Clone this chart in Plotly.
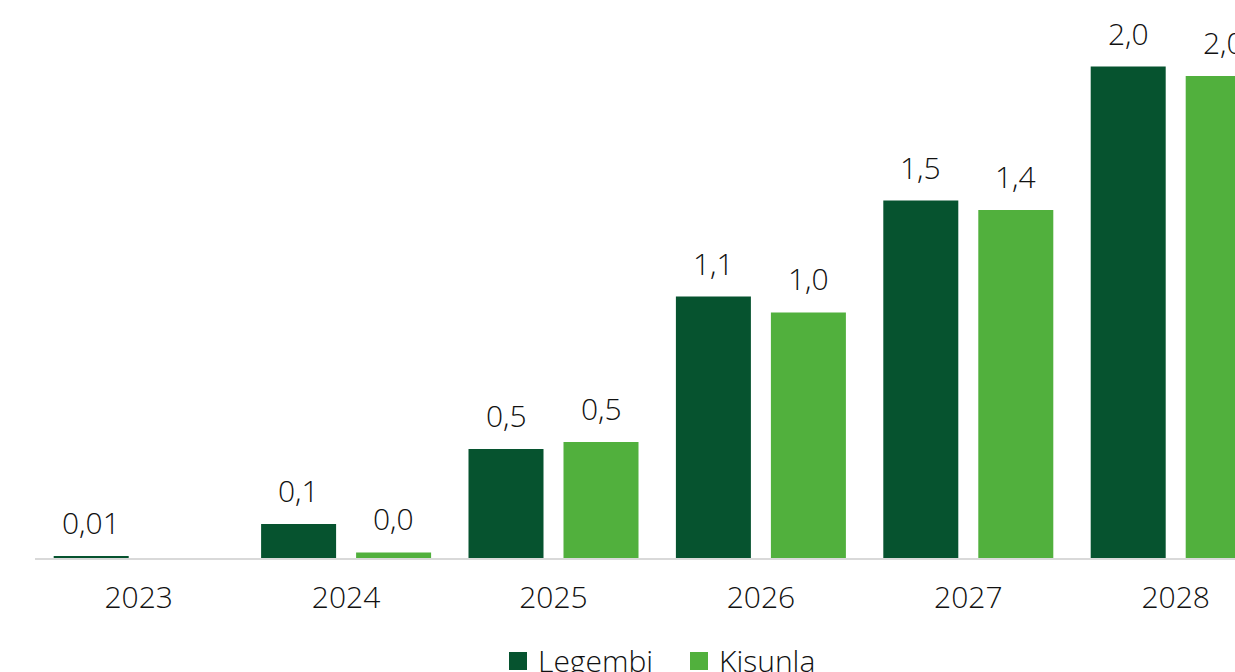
import plotly.graph_objects as go

# Data
years = ["2023", "2024", "2025", "2026", "2027", "2028"]
legembi = [0.008, 0.141, 0.452, 1.085, 1.483, 2.039]
kisunla = [None, 0.023, 0.481, 1.019, 1.444, 2.000]
label_decimals = [2, 1, 1, 1, 1, 1]
series_names = ["Legembi", "Kisunla"]

DARK = "#06532F"
LIGHT = "#51B03D"
TEXT = "#111111"
FONT = "Open Sans"
FS = 30

W, H = 1235, 672
ML, MR, MT, MB = 35, 0, 0, 114
PW, PH = W - ML - MR, H - MT - MB

CAT_PX = 207.4          # pixel width of one category slot
PX_PER_UNIT = 241.0     # vertical pixels per unit of value
BAR_PX, INNER_GAP_PX = 75, 20
SLOT_PX = BAR_PX + INNER_GAP_PX
BARGAP = 1 - 2 * SLOT_PX / CAT_PX
BARGROUPGAP = INNER_GAP_PX / SLOT_PX


def fmt(v, d):
    return f"{v:.{d}f}".replace(".", ",")


def px_x(p):
    return (p - ML) / PW


def px_y(p):
    return (H - MB - p) / PH


fig = go.Figure()
for name, vals, col in [(series_names[0], legembi, DARK), (series_names[1], kisunla, LIGHT)]:
    fig.add_trace(go.Bar(
        x=list(range(len(years))), y=vals, name=name,
        marker=dict(color=col, line=dict(width=0)),
        showlegend=False,
    ))

# value labels above each bar
slot = (1 - BARGAP) / 2
annotations = []
for k, vals in enumerate([legembi, kisunla]):
    off = -slot / 2 if k == 0 else slot / 2
    for i, v in enumerate(vals):
        if v is None:
            continue
        annotations.append(dict(
            x=i + off, y=v, xref="x", yref="y",
            text=fmt(v, label_decimals[i]), showarrow=False,
            yanchor="bottom", xanchor="center", yshift=11,
            font=dict(family=FONT, size=FS, color=TEXT, weight=300),
        ))

# legend drawn as squares with labels
shapes = []
legend_items = [(509, 536, series_names[0], DARK), (690, 717, series_names[1], LIGHT)]
for sx, tx, name, col in legend_items:
    shapes.append(dict(
        type="rect", xref="paper", yref="paper",
        x0=px_x(sx), x1=px_x(sx + 18), y0=px_y(670), y1=px_y(652),
        fillcolor=col, line=dict(width=0),
    ))
    annotations.append(dict(
        x=px_x(tx), y=px_y(638), xref="paper", yref="paper",
        text=name, showarrow=False, xanchor="left", yanchor="top",
        font=dict(family=FONT, size=FS, color=TEXT, weight=300),
    ))

fig.update_layout(
    width=W, height=H,
    margin=dict(l=ML, r=MR, t=MT, b=MB),
    paper_bgcolor="white", plot_bgcolor="white",
    barmode="group", bargap=BARGAP, bargroupgap=BARGROUPGAP,
    annotations=annotations, shapes=shapes,
    font=dict(family=FONT, size=FS, color=TEXT),
)
fig.update_xaxes(
    tickmode="array", tickvals=list(range(len(years))), ticktext=years,
    range=[-0.5, -0.5 + PW / CAT_PX],
    showline=True, linecolor="#d9d9d9", linewidth=2,
    showgrid=False, zeroline=False, ticks="", ticklabelstandoff=12,
    tickfont=dict(family=FONT, size=FS, color=TEXT, weight=300),
    fixedrange=True,
)
fig.update_yaxes(
    range=[0, PH / PX_PER_UNIT], visible=False, showgrid=False, zeroline=False,
    fixedrange=True,
)

fig.write_html("out.html", config={"displayModeBar": False})
